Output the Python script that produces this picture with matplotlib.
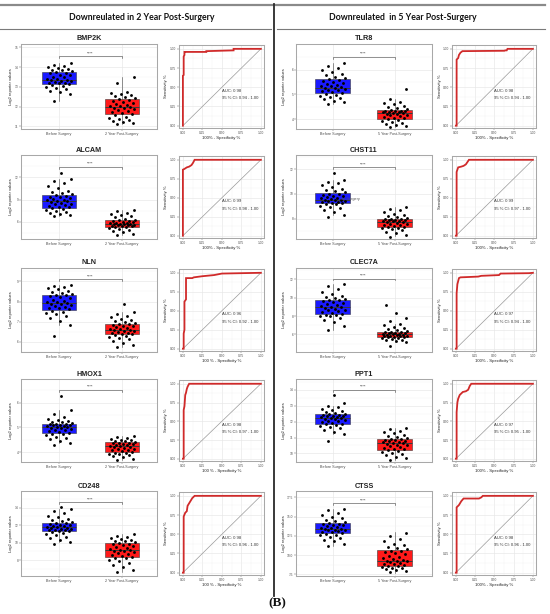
import numpy as np
import matplotlib
matplotlib.use('Agg')
import matplotlib.pyplot as plt
from matplotlib.lines import Line2D

W, H = 550, 614
plt.rcParams['font.family'] = ['Liberation Sans', 'DejaVu Sans']

# ---------------- data ----------------
genes_left = ['BMP2K', 'ALCAM', 'NLN', 'HMOX1', 'CD248']
genes_right = ['TLR8', 'CHST11', 'CLEC7A', 'PPT1', 'CTSS']
groups_left = ['Before Surgery', '2 Year Post-Surgery']
groups_right = ['Before Surgery', '5 Year Post-Surgery']
header_left = 'Downreulated in 2 Year Post-Surgery'
header_right = 'Downreulated  in 5 Year Post-Surgery'

# box stats: whisker low, q1, median, q3, whisker high
box_before = {
    'BMP2K': [12.3, 13.13, 13.37, 13.77, 14.2],
    'ALCAM': [6.85, 7.93, 8.78, 9.62, 11.8],
    'NLN': [6.84, 7.6, 7.95, 8.34, 8.84],
    'HMOX1': [4.37, 4.77, 5.01, 5.15, 5.7],
    'CD248': [10.1, 11.28, 11.74, 12.27, 13.85],
    'TLR8': [4.62, 5.04, 5.26, 5.62, 6.27],
    'CHST11': [8.27, 9.25, 9.52, 10.05, 11.1],
    'CLEC7A': [6.47, 8.18, 8.95, 9.78, 11.5],
    'PPT1': [11.2, 11.85, 12.22, 12.47, 13.0],
    'CTSS': [11.15, 12.81, 13.37, 14.14, 16.0],
}
box_after = {
    'BMP2K': [11.13, 11.62, 12.0, 12.4, 13.5],
    'ALCAM': [4.25, 5.37, 5.73, 6.22, 7.57],
    'NLN': [5.77, 6.37, 6.57, 6.9, 7.5],
    'HMOX1': [3.7, 4.0, 4.24, 4.4, 4.64],
    'CD248': [6.6, 8.35, 9.17, 10.0, 10.95],
    'TLR8': [3.7, 4.01, 4.23, 4.35, 4.8],
    'CHST11': [6.6, 7.33, 7.76, 8.0, 8.9],
    'CLEC7A': [5.13, 5.71, 6.0, 6.29, 7.1],
    'PPT1': [9.6, 10.23, 10.65, 10.92, 11.6],
    'CTSS': [7.7, 8.65, 9.29, 10.66, 12.93],
}

pts_before = {
    'BMP2K': [12.27, 12.65, 12.72, 12.8, 12.9, 12.95, 13.0, 13.05, 13.1,
              13.15, 13.18, 13.2, 13.22, 13.25, 13.28, 13.3, 13.33, 13.36, 13.38, 13.42, 13.48, 13.52, 13.58, 13.62, 13.68, 13.72, 13.76,
              13.8, 13.85, 13.88, 13.92, 13.95, 14.0, 14.05, 14.12, 14.22],
    'ALCAM': [6.85, 6.95, 7.1, 7.2, 7.35, 7.5, 7.6, 7.75, 7.85,
              7.95, 8.05, 8.15, 8.25, 8.35, 8.45, 8.55, 8.65, 8.75, 8.8, 8.9, 9.0, 9.1, 9.2, 9.3, 9.4, 9.5, 9.6,
              9.7, 9.85, 10.0, 10.2, 10.5, 10.8, 11.2, 11.5, 11.8, 12.6],
    'NLN': [6.3, 6.84, 7.05, 7.2, 7.3, 7.4, 7.45, 7.5, 7.55,
            7.62, 7.66, 7.7, 7.74, 7.78, 7.82, 7.86, 7.9, 7.94, 7.97, 8.0, 8.05, 8.1, 8.15, 8.2, 8.25, 8.3, 8.33,
            8.38, 8.42, 8.48, 8.53, 8.6, 8.65, 8.7, 8.77, 8.84],
    'HMOX1': [4.3, 4.37, 4.45, 4.52, 4.58, 4.63, 4.68, 4.72, 4.75,
              4.78, 4.82, 4.85, 4.88, 4.91, 4.94, 4.96, 4.98, 5.0, 5.02, 5.04, 5.06, 5.08, 5.1, 5.11, 5.12, 5.13, 5.14,
              5.17, 5.2, 5.23, 5.26, 5.3, 5.35, 5.42, 5.55, 5.7, 6.25],
    'CD248': [9.85, 10.1, 10.3, 10.5, 10.7, 10.85, 11.0, 11.1, 11.2,
              11.3, 11.35, 11.4, 11.45, 11.5, 11.55, 11.6, 11.65, 11.7, 11.75, 11.8, 11.87, 11.93, 12.0, 12.07, 12.13, 12.2, 12.25,
              12.35, 12.45, 12.6, 12.75, 12.9, 13.1, 13.35, 13.6, 13.85, 14.1],
    'TLR8': [4.62, 4.7, 4.75, 4.8, 4.85, 4.9, 4.95, 4.98, 5.02,
             5.06, 5.1, 5.13, 5.16, 5.19, 5.22, 5.25, 5.27, 5.3, 5.33, 5.36, 5.4, 5.44, 5.48, 5.52, 5.56, 5.59, 5.61,
             5.66, 5.72, 5.78, 5.84, 5.9, 5.98, 6.06, 6.15, 6.27],
    'CHST11': [8.1, 8.27, 8.5, 8.7, 8.85, 8.95, 9.05, 9.15, 9.22,
               9.27, 9.3, 9.33, 9.36, 9.4, 9.44, 9.48, 9.51, 9.54, 9.58, 9.63, 9.68, 9.74, 9.8, 9.86, 9.92, 9.97, 10.03,
               10.12, 10.2, 10.3, 10.42, 10.55, 10.7, 10.85, 11.0, 11.1, 11.7],
    'CLEC7A': [6.47, 6.9, 7.3, 7.6, 7.8, 7.95, 8.05, 8.1, 8.15,
               8.2, 8.3, 8.4, 8.5, 8.6, 8.7, 8.8, 8.9, 8.95, 9.0, 9.1, 9.2, 9.3, 9.4, 9.5, 9.6, 9.7, 9.75,
               9.85, 9.95, 10.05, 10.2, 10.4, 10.6, 10.9, 11.2, 11.5],
    'PPT1': [10.8, 11.2, 11.35, 11.48, 11.58, 11.66, 11.72, 11.78, 11.83,
             11.87, 11.92, 11.97, 12.02, 12.06, 12.1, 12.14, 12.18, 12.21, 12.24, 12.27, 12.3, 12.33, 12.36, 12.39, 12.42, 12.44, 12.46,
             12.5, 12.55, 12.6, 12.66, 12.72, 12.8, 12.9, 13.0, 13.2, 13.7],
    'CTSS': [11.2, 11.5, 11.8, 12.0, 12.2, 12.4, 12.55, 12.65, 12.75,
             12.85, 12.95, 13.05, 13.15, 13.2, 13.25, 13.3, 13.35, 13.4, 13.45, 13.55, 13.65, 13.75, 13.85, 13.95, 14.0, 14.05, 14.12,
             14.25, 14.4, 14.6, 14.85, 15.0, 15.2, 15.5, 15.8, 16.0],
}
pts_after = {
    'BMP2K': [11.13, 11.18, 11.22, 11.3, 11.35, 11.4, 11.45, 11.5, 11.58,
              11.65, 11.7, 11.75, 11.8, 11.85, 11.88, 11.92, 11.95, 11.98, 12.02, 12.05, 12.1, 12.15, 12.2, 12.25, 12.3, 12.35, 12.38,
              12.45, 12.5, 12.55, 12.6, 12.65, 12.7, 12.75, 13.2, 13.5],
    'ALCAM': [4.25, 4.4, 4.6, 4.8, 4.95, 5.05, 5.15, 5.25, 5.32,
              5.4, 5.45, 5.5, 5.55, 5.6, 5.63, 5.67, 5.7, 5.72, 5.75, 5.8, 5.85, 5.9, 5.95, 6.0, 6.08, 6.15, 6.2,
              6.3, 6.45, 6.6, 6.75, 6.9, 7.05, 7.2, 7.4, 7.57],
    'NLN': [5.77, 5.85, 5.95, 6.05, 6.12, 6.2, 6.25, 6.3, 6.35,
            6.38, 6.4, 6.43, 6.46, 6.49, 6.52, 6.55, 6.57, 6.6, 6.63, 6.66, 6.7, 6.74, 6.78, 6.81, 6.84, 6.87, 6.89,
            6.93, 6.97, 7.02, 7.08, 7.15, 7.22, 7.3, 7.4, 7.5, 7.87],
    'HMOX1': [3.7, 3.75, 3.8, 3.84, 3.88, 3.92, 3.95, 3.97, 3.99,
              4.02, 4.05, 4.08, 4.1, 4.13, 4.15, 4.18, 4.2, 4.22, 4.24, 4.26, 4.28, 4.3, 4.32, 4.34, 4.36, 4.38, 4.39,
              4.42, 4.44, 4.46, 4.48, 4.5, 4.53, 4.56, 4.6, 4.64],
    'CD248': [6.6, 6.9, 7.2, 7.5, 7.7, 7.9, 8.05, 8.2, 8.3,
              8.4, 8.5, 8.6, 8.7, 8.8, 8.9, 9.0, 9.1, 9.15, 9.2, 9.3, 9.4, 9.5, 9.6, 9.7, 9.8, 9.9, 9.97,
              10.05, 10.15, 10.25, 10.35, 10.45, 10.55, 10.7, 10.8, 10.95],
    'TLR8': [3.7, 3.74, 3.78, 3.82, 3.86, 3.9, 3.94, 3.97, 4.0,
             4.03, 4.06, 4.09, 4.12, 4.15, 4.18, 4.2, 4.22, 4.23, 4.25, 4.27, 4.28, 4.3, 4.31, 4.32, 4.33, 4.34, 4.35,
             4.4, 4.45, 4.5, 4.55, 4.6, 4.65, 4.7, 4.8, 5.2],
    'CHST11': [6.55, 6.65, 6.8, 6.95, 7.05, 7.15, 7.22, 7.28, 7.31,
               7.35, 7.4, 7.45, 7.5, 7.55, 7.6, 7.65, 7.7, 7.74, 7.77, 7.8, 7.83, 7.86, 7.89, 7.92, 7.95, 7.97, 7.99,
               8.05, 8.12, 8.2, 8.3, 8.4, 8.55, 8.68, 8.8, 8.95],
    'CLEC7A': [4.7, 5.13, 5.25, 5.35, 5.45, 5.52, 5.58, 5.63, 5.68,
               5.72, 5.75, 5.78, 5.82, 5.85, 5.88, 5.92, 5.95, 5.98, 6.01, 6.04, 6.08, 6.12, 6.15, 6.19, 6.22, 6.25, 6.28,
               6.35, 6.45, 6.55, 6.7, 6.85, 7.0, 7.1, 7.5, 7.8, 8.3, 9.2],
    'PPT1': [9.6, 9.7, 9.8, 9.9, 9.98, 10.05, 10.12, 10.17, 10.21,
             10.25, 10.3, 10.35, 10.4, 10.45, 10.5, 10.55, 10.6, 10.63, 10.67, 10.7, 10.74, 10.77, 10.8, 10.83, 10.86, 10.89, 10.91,
             10.97, 11.03, 11.1, 11.18, 11.26, 11.35, 11.44, 11.52, 11.6],
    'CTSS': [7.8, 7.95, 8.1, 8.2, 8.3, 8.4, 8.5, 8.55, 8.6,
             8.7, 8.8, 8.9, 9.0, 9.1, 9.2, 9.25, 9.3, 9.4, 9.5, 9.65, 9.8, 9.95, 10.1, 10.25, 10.4, 10.5, 10.6,
             10.75, 10.9, 11.1, 11.3, 11.5, 11.8, 12.1, 12.5, 12.9],
}

yticks = {
    'BMP2K': [11, 12, 13, 14, 15], 'ALCAM': [6, 9, 12], 'NLN': [6, 7, 8, 9],
    'HMOX1': [4, 5, 6], 'CD248': [8, 10, 12, 14], 'TLR8': [4, 5, 6],
    'CHST11': [8, 10, 12], 'CLEC7A': [6, 8, 10, 12], 'PPT1': [10, 11, 12, 13, 14],
    'CTSS': [7.5, 10.0, 12.5, 15.0, 17.5],
}
ytick_fmt = {'CTSS': '{:.1f}'}
ylims = {
    'BMP2K': (10.87, 15.17), 'ALCAM': (3.7, 15.0), 'NLN': (5.5, 9.66),
    'HMOX1': (3.61, 6.95), 'CD248': (6.2, 15.9), 'TLR8': (3.6, 7.04),
    'CHST11': (6.35, 13.15), 'CLEC7A': (4.1, 13.2), 'PPT1': (9.46, 14.69),
    'CTSS': (7.3, 18.3),
}
bracket_y = {
    'BMP2K': 14.55, 'ALCAM': 13.4, 'NLN': 9.1, 'HMOX1': 6.5, 'CD248': 14.6,
    'TLR8': 6.51, 'CHST11': 12.16, 'CLEC7A': 12.04, 'PPT1': 14.0, 'CTSS': 16.7,
}
signif = '****'

roc_fpr = {
    'BMP2K': [0, 0, 0.01, 0.01, 0.02, 0.02, 0.03, 0.3, 0.3, 0.65, 0.65, 1.0],
    'ALCAM': [0, 0, 0.02, 0.05, 0.08, 0.11, 0.13, 0.15, 1.0],
    'NLN': [0, 0.01, 0.01, 0.02, 0.02, 0.04, 0.04, 0.12, 0.14, 0.25, 0.3, 0.4, 0.45, 0.5, 1.0],
    'HMOX1': [0, 0.01, 0.01, 0.02, 0.03, 0.04, 0.05, 0.06, 0.08, 1.0],
    'CD248': [0, 0.01, 0.01, 0.03, 0.05, 0.06, 0.09, 0.12, 0.15, 1.0],
    'TLR8': [0, 0.01, 0.01, 0.03, 0.04, 0.06, 0.085, 0.63, 0.64, 0.66, 0.67, 1.0],
    'CHST11': [0, 0.01, 0.01, 0.02, 0.03, 0.07, 0.1, 0.13, 0.15, 0.17, 1.0],
    'CLEC7A': [0, 0.01, 0.01, 0.02, 0.04, 0.06, 0.29, 0.33, 0.56, 0.58, 0.95, 1.0],
    'PPT1': [0, 0.01, 0.01, 0.02, 0.03, 0.05, 0.09, 0.13, 0.16, 0.18, 0.2, 1.0],
    'CTSS': [0, 0.01, 0.01, 0.04, 0.07, 0.1, 0.3, 0.33, 0.35, 1.0],
}
roc_tpr = {
    'BMP2K': [0, 0.65, 0.66, 0.9, 0.92, 0.96, 0.96, 0.96, 0.97, 0.98, 1.0, 1.0],
    'ALCAM': [0, 0.87, 0.88, 0.9, 0.91, 0.93, 0.96, 1.0, 1.0],
    'NLN': [0, 0, 0.2, 0.25, 0.62, 0.65, 0.93, 0.93, 0.94, 0.955, 0.96, 0.97, 0.98, 0.99, 1.0],
    'HMOX1': [0, 0, 0.65, 0.7, 0.85, 0.88, 0.93, 0.96, 1.0, 1.0],
    'CD248': [0, 0, 0.73, 0.78, 0.8, 0.87, 0.92, 0.97, 1.0, 1.0],
    'TLR8': [0, 0, 0.86, 0.88, 0.92, 0.95, 0.97, 0.975, 0.98, 0.98, 1.0, 1.0],
    'CHST11': [0, 0, 0.84, 0.87, 0.9, 0.91, 0.92, 0.94, 0.97, 1.0, 1.0],
    'CLEC7A': [0, 0, 0.73, 0.85, 0.93, 0.94, 0.95, 0.96, 0.97, 0.99, 0.995, 1.0],
    'PPT1': [0, 0, 0.62, 0.75, 0.8, 0.85, 0.89, 0.9, 0.92, 0.97, 1.0, 1.0],
    'CTSS': [0, 0, 0.85, 0.88, 0.93, 0.965, 0.965, 0.98, 1.0, 1.0],
}
auc_text = {
    'BMP2K': 'AUC: 0.98', 'ALCAM': 'AUC: 0.99', 'NLN': 'AUC: 0.96', 'HMOX1': 'AUC: 0.98',
    'CD248': 'AUC: 0.98', 'TLR8': 'AUC: 0.98', 'CHST11': 'AUC: 0.99', 'CLEC7A': 'AUC: 0.97',
    'PPT1': 'AUC: 0.97', 'CTSS': 'AUC: 0.98',
}
ci_text = {
    'BMP2K': '95 % CI: 0.94 - 1.00', 'ALCAM': '95 % CI: 0.98 - 1.00', 'NLN': '95 % CI: 0.92 - 1.00',
    'HMOX1': '95 % CI: 0.97 - 1.00', 'CD248': '95 % CI: 0.96 - 1.00', 'TLR8': '95 % CI: 0.94 - 1.00',
    'CHST11': '95 % CI: 0.97 - 1.00', 'CLEC7A': '95 % CI: 0.94 - 1.00', 'PPT1': '95 % CI: 0.95 - 1.00',
    'CTSS': '95 % CI: 0.96 - 1.00',
}
roc_xlabel = {
    'BMP2K': '100% - Specificity %', 'ALCAM': '100% - Specificity %', 'NLN': '100 % - Specificity %',
    'HMOX1': '100 % - Specificity %', 'CD248': '100 % - Specificity %',
}
roc_ticks = [0.0, 0.25, 0.5, 0.75, 1.0]

# ---------------- layout (pixels) ----------------
row_top = [44, 155, 268, 379, 491]
row_bot = [129, 239, 352, 462, 576]
cols = [
    dict(genes=genes_left, groups=groups_left, box=(21, 157), c1=59, c2=122, roc=(179, 264), ylab_x=11, roclab_x=166),
    dict(genes=genes_right, groups=groups_right, box=(296, 432), c1=332.5, c2=394.5, roc=(452, 536), ylab_x=284, roclab_x=440),
]

BLUE = '#1a1aff'
RED = '#ff1a1a'
GRID = '#e6e6e6'
GRID2 = '#f2f2f2'
FRAME = '#a8a8a8'
TXT = '#4d4d4d'

fig = plt.figure(figsize=(W / 100, H / 100), dpi=100)
fig.patch.set_facecolor('white')


def px_axes(x0, y0, x1, y1):
    return fig.add_axes([x0 / W, 1 - y1 / H, (x1 - x0) / W, (y1 - y0) / H])


def style(ax):
    for s in ax.spines.values():
        s.set_color(FRAME)
        s.set_linewidth(0.75)
    ax.set_facecolor('white')
    ax.tick_params(which='major', labelsize=2.3, length=1.2, width=0.3, pad=0.7,
                   colors='#555555', labelcolor=TXT)
    ax.tick_params(which='minor', length=0)
    ax.grid(which='major', color=GRID, lw=0.45)
    ax.grid(which='minor', color=GRID2, lw=0.3)
    ax.set_axisbelow(True)


for col in cols:
    for r, g in enumerate(col['genes']):
        top, bot = row_top[r], row_bot[r]
        bx0, bx1 = col['box']
        unit = col['c2'] - col['c1']
        xlim = (1 - (col['c1'] - bx0) / unit, 2 + (bx1 - col['c2']) / unit)
        ax = px_axes(bx0, top, bx1, bot)
        style(ax)
        stats = []
        for bs in (box_before[g], box_after[g]):
            stats.append(dict(whislo=bs[0], q1=bs[1], med=bs[2], q3=bs[3], whishi=bs[4], fliers=[]))
        bp = ax.bxp(stats, positions=[1, 2], widths=0.55, patch_artist=True, showcaps=False,
                    showfliers=False,
                    boxprops=dict(edgecolor='#3a3a3a', linewidth=0.4),
                    medianprops=dict(color='#3a3a3a', linewidth=0.7),
                    whiskerprops=dict(color='#555555', linewidth=0.45))
        for patch, c in zip(bp['boxes'], (BLUE, RED)):
            patch.set_facecolor(c)
        for pos, vals in ((1, pts_before[g]), (2, pts_after[g])):
            v = np.asarray(vals)
            n = len(v)
            off = ((np.arange(n) * 0.618034 + 0.31) % 1 - 0.5) * 0.42
            ax.scatter(pos + off, v, s=4.2, color='black', zorder=4, linewidths=0)
        b = bracket_y[g]
        lo, hi = ylims[g]
        d = (hi - lo) * 0.02
        ax.plot([1, 1, 2, 2], [b - d, b, b, b - d], color='#555555', lw=0.45, zorder=3)
        ax.text(1.5, b + d * 0.6, signif, ha='center', va='bottom', fontsize=3, color='#333333')
        ax.set_xlim(*xlim)
        ax.set_ylim(lo, hi)
        yt = yticks[g]
        ax.set_yticks(yt)
        fmt = ytick_fmt.get(g, '{:g}')
        ax.set_yticklabels([fmt.format(t) for t in yt])
        step = yt[1] - yt[0]
        ax.set_yticks([t + step / 2 for t in [yt[0] - step] + yt], minor=True)
        ax.set_xticks([1, 2])
        ax.set_xticklabels(col['groups'])
        ax.tick_params(axis='x', labelsize=2.7)
        if g == 'CHST11':
            ax.text(1.14, 9.55, 'ost-Surgery', fontsize=2.8, color='#555555', va='center', zorder=5)
        ax.set_ylim(lo, hi)
        fig.text(col['ylab_x'] / W, 1 - (top + bot) / 2 / H, 'Log2 reporter values', rotation=90,
                 ha='center', va='center', fontsize=2.9, color='#222222')
        fig.text((bx0 + bx1) / 2 / W, 1 - (top - 5) / H, g, ha='center', va='center',
                 fontsize=5.2, fontweight='bold', color='#222222')

        # ROC
        rx0, rx1 = col['roc']
        ra = px_axes(rx0, top + 1, rx1, bot - 1)
        style(ra)
        ra.plot([0, 1], [0, 1], color='#9a9a9a', lw=0.5, zorder=2)
        ra.plot(roc_fpr[g], roc_tpr[g], color='#d02a2a', lw=1.3, zorder=3, solid_joinstyle='miter')
        ra.set_xlim(-0.05, 1.04)
        ra.set_ylim(-0.03, 1.05)
        ra.set_xticks(roc_ticks)
        ra.set_yticks(roc_ticks)
        ra.set_xticks([0.125, 0.375, 0.625, 0.875], minor=True)
        ra.set_yticks([0.125, 0.375, 0.625, 0.875], minor=True)
        ra.set_xticklabels(['{:.2f}'.format(t) for t in roc_ticks])
        ra.set_yticklabels(['{:.2f}'.format(t) for t in roc_ticks])
        ra.set_xlabel(roc_xlabel.get(g, '100% - Specificity %'), fontsize=3.1, labelpad=1.2, color='#222222')
        fig.text(col['roclab_x'] / W, 1 - (top + bot) / 2 / H, 'Sensitivity %', rotation=90,
                 ha='center', va='center', fontsize=3.0, color='#222222')
        ra.text(0.5, 0.455, auc_text[g], fontsize=3.0, color='#333333', va='center')
        ra.text(0.5, 0.357, ci_text[g], fontsize=3.0, color='#333333', va='center')

# ---------------- frame / headers ----------------
def hline(x0, x1, y, color, lw):
    fig.add_artist(Line2D([x0 / W, x1 / W], [1 - y / H, 1 - y / H], transform=fig.transFigure,
                          color=color, lw=lw))


hline(0, 545, 4.5, '#8a8a8a', 1.6)
hline(0, 271, 28.5, '#7a7a7a', 0.8)
hline(277, 545, 28.5, '#7a7a7a', 0.8)
fig.add_artist(Line2D([274 / W, 274 / W], [1 - 4 / H, 1 - 596 / H], transform=fig.transFigure,
                      color='#2a2a2a', lw=1.3))
fig.text(142 / W, 1 - 17 / H, header_left, ha='center', va='center', fontsize=6.3,
         fontweight='bold', family=['Lato', 'DejaVu Sans'], color='#111111')
fig.text(403 / W, 1 - 17 / H, header_right, ha='center', va='center', fontsize=6.3,
         fontweight='bold', family=['Lato', 'DejaVu Sans'], color='#111111')
fig.text(277 / W, 1 - 603 / H, '(B)', ha='center', va='center', fontsize=9.5,
         fontweight='bold', family=['Liberation Serif', 'DejaVu Serif'], color='#111111')

fig.savefig('out.png', dpi=100, facecolor='white')
